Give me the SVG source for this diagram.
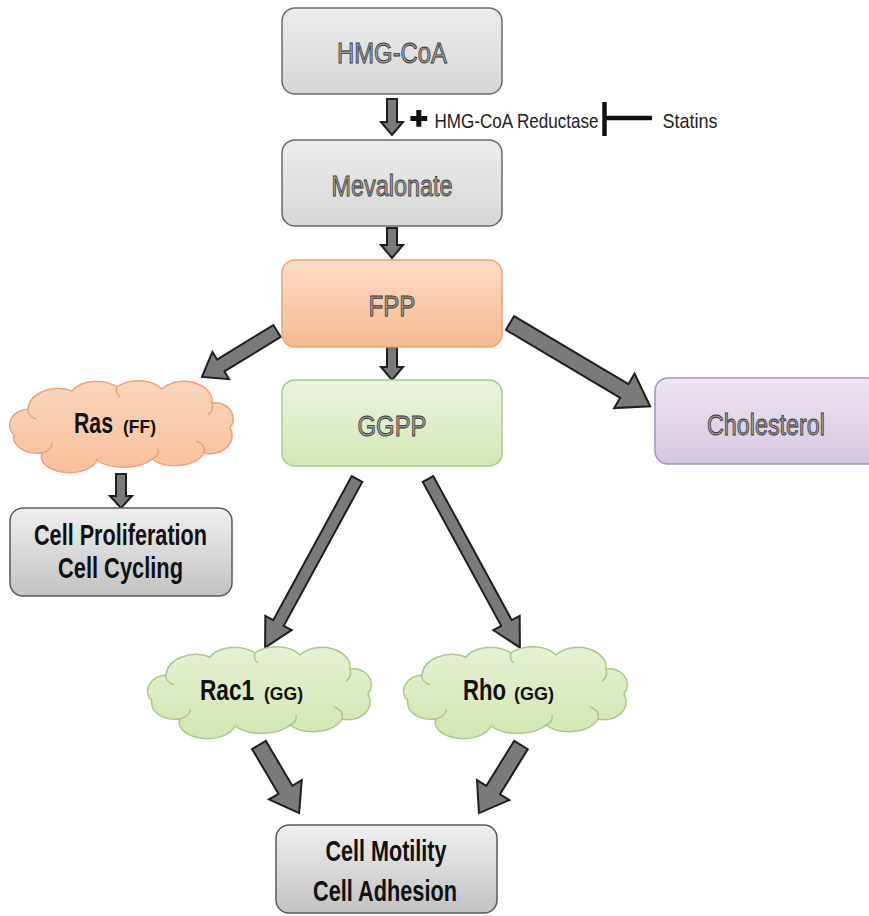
<svg xmlns="http://www.w3.org/2000/svg" width="869" height="916" viewBox="0 0 869 916">
<style>
.box{stroke-width:1.5}
.gray{fill:url(#gGray);stroke:#6a6a6a}
.dgray{fill:url(#gDark);stroke:#5a5a5a}
.orange{fill:url(#gOrange);stroke:#eea477}
.green{fill:url(#gGreen);stroke:#a9cb86}
.purple{fill:url(#gPurple);stroke:#a692bf}
.otxt{font-family:"Liberation Sans",Arial,sans-serif;font-size:30px;fill:#a2a2a2;stroke:#333;stroke-width:0.9;text-anchor:middle}
.btxt{font-family:"Liberation Sans",Arial,sans-serif;font-size:30px;font-weight:bold;fill:#111;text-anchor:middle}
.ctxt{font-family:"Liberation Sans",Arial,sans-serif;font-weight:bold;fill:#111}
.ltxt{font-family:"Liberation Sans",Arial,sans-serif;font-size:21px;fill:#222}
.arr{fill:#7a7a7a;stroke:#1e1e1e;stroke-width:2;stroke-linejoin:miter}
.cloudO{fill:url(#gCloudO);stroke:#eba27a;stroke-width:1.5}
.cloudG{fill:url(#gCloudG);stroke:#a9c98a;stroke-width:1.5}
.curlO{fill:none;stroke:#eba27a;stroke-width:1.5}
.curlG{fill:none;stroke:#a9c98a;stroke-width:1.5}
</style>
<defs>
<linearGradient id="gGray" x1="0" y1="0" x2="0" y2="1"><stop offset="0" stop-color="#ededed"/><stop offset="1" stop-color="#d6d6d6"/></linearGradient>
<linearGradient id="gDark" x1="0" y1="0" x2="0" y2="1"><stop offset="0" stop-color="#f0f0f0"/><stop offset="1" stop-color="#c2c2c2"/></linearGradient>
<linearGradient id="gOrange" x1="0" y1="0" x2="0" y2="1"><stop offset="0" stop-color="#fcdcc6"/><stop offset="1" stop-color="#f8b991"/></linearGradient>
<linearGradient id="gGreen" x1="0" y1="0" x2="0" y2="1"><stop offset="0" stop-color="#ecf5e0"/><stop offset="1" stop-color="#d3e7b6"/></linearGradient>
<linearGradient id="gPurple" x1="0" y1="0" x2="0" y2="1"><stop offset="0" stop-color="#eee6f2"/><stop offset="1" stop-color="#d6c6e0"/></linearGradient>
<linearGradient id="gCloudO" x1="0" y1="0" x2="0" y2="1"><stop offset="0" stop-color="#fbd6bc"/><stop offset="1" stop-color="#f8c09b"/></linearGradient>
<linearGradient id="gCloudG" x1="0" y1="0" x2="0" y2="1"><stop offset="0" stop-color="#e6f1d3"/><stop offset="1" stop-color="#d2e6b3"/></linearGradient>
<path id="cloud" d="M -80,30 A 24,16 0 0 1 -108,12 A 20,16 0 0 1 -94,-14 A 30,22 0 0 1 -50,-32 A 28,18 0 0 1 -5,-36 A 28,18 0 0 1 40,-34 A 28,20 0 0 1 90,-20 A 18,16 0 0 1 108,5 A 22,18 0 0 1 82,30 A 30,18 0 0 1 30,36 A 32,16 0 0 1 -25,37 A 28,16 0 0 1 -80,30 Z"/>
<path id="curls" d="M -94,-14 A 14,10 0 0 0 -86,-4 M -80,30 A 16,10 0 0 0 -70,20 M 90,-20 A 14,12 0 0 1 86,-8 M 82,30 A 14,10 0 0 0 74,18 M 30,36 A 14,10 0 0 0 36,26 M -5,-36 A 12,10 0 0 0 -2,-26"/>
</defs>

<g id="connectors">
<polygon class="arr" transform="translate(392,99) rotate(90)" points="0,-5 23,-5 23,-11 36,0 23,11 23,5 0,5"/>
<polygon class="arr" transform="translate(392,228) rotate(90)" points="0,-5 17,-5 17,-11 30,0 17,11 17,5 0,5"/>
<polygon class="arr" transform="translate(392,347) rotate(90)" points="0,-5 20,-5 20,-11 33,0 20,11 20,5 0,5"/>
<polygon class="arr" transform="translate(121,474) rotate(90)" points="0,-5 22,-5 22,-11 34,0 22,11 22,5 0,5"/>
<polygon class="arr" transform="translate(277,331) rotate(148.5)" points="0,-7 66,-7 66,-16 88,0 66,16 66,7 0,7"/>
<polygon class="arr" transform="translate(510,323) rotate(30.7)" points="0,-8 133,-8 133,-20 163,0 133,20 133,8 0,8"/>
<polygon class="arr" transform="translate(357,479) rotate(118.6)" points="0,-6 164,-6 164,-15 192,0 164,15 164,6 0,6"/>
<polygon class="arr" transform="translate(428,479) rotate(61.4)" points="0,-6 164,-6 164,-15 192,0 164,15 164,6 0,6"/>
<polygon class="arr" transform="translate(259,745) rotate(59.5)" points="0,-8 52,-8 52,-19 79,0 52,19 52,8 0,8"/>
<polygon class="arr" transform="translate(521,745) rotate(121.7)" points="0,-8 53,-8 53,-19 80,0 53,19 53,8 0,8"/>
<g id="statins-inhibition">
<line x1="606" y1="118" x2="652" y2="118" stroke="#111" stroke-width="4.5"/>
<line x1="604.5" y1="102" x2="604.5" y2="136" stroke="#111" stroke-width="4.5"/>
</g>
</g>

<g id="hmgcoa">
<rect class="box gray" x="282" y="8" width="220" height="86" rx="13"/>
<text class="otxt" x="392" y="63" textLength="110" lengthAdjust="spacingAndGlyphs">HMG-CoA</text>
</g>

<g id="reductase">
<path d="M416.3,110 h5 v5.9 h5.9 v5 h-5.9 v5.9 h-5 v-5.9 h-5.9 v-5 h5.9 z" fill="#111"/>
<text class="ltxt" x="434.5" y="128" textLength="164" lengthAdjust="spacingAndGlyphs">HMG-CoA Reductase</text>
</g>

<g id="statins">
<text class="ltxt" x="662.5" y="128" textLength="55" lengthAdjust="spacingAndGlyphs">Statins</text>
</g>

<g id="mevalonate">
<rect class="box gray" x="282" y="140" width="220" height="86" rx="13"/>
<text class="otxt" x="392" y="196" textLength="121" lengthAdjust="spacingAndGlyphs">Mevalonate</text>
</g>

<g id="fpp">
<rect class="box orange" x="282" y="260" width="220" height="87" rx="13"/>
<text class="otxt" x="392" y="316" textLength="47" lengthAdjust="spacingAndGlyphs">FPP</text>
</g>

<g id="ggpp">
<rect class="box green" x="282" y="380" width="220" height="86" rx="13"/>
<text class="otxt" x="392" y="436" textLength="69" lengthAdjust="spacingAndGlyphs">GGPP</text>
</g>

<g id="cholesterol">
<rect class="box purple" x="655" y="378" width="230" height="86" rx="13"/>
<text class="otxt" x="766" y="435" textLength="118" lengthAdjust="spacingAndGlyphs">Cholesterol</text>
</g>

<g id="ras">
<g transform="translate(122,423)"><use href="#cloud" class="cloudO"/><use href="#curls" class="curlO"/></g>
<text class="ctxt" transform="translate(74,433) scale(0.733,1)" font-size="29">Ras</text>
<text class="ctxt" transform="translate(123,433) scale(0.92,1)" font-size="19">(FF)</text>
</g>

<g id="cell-proliferation">
<rect class="box dgray" x="10" y="508" width="222" height="88" rx="13"/>
<text class="btxt" x="120.5" y="545" textLength="173" lengthAdjust="spacingAndGlyphs">Cell Proliferation</text>
<text class="btxt" x="120.5" y="578" textLength="125" lengthAdjust="spacingAndGlyphs">Cell Cycling</text>
</g>

<g id="rac1">
<g transform="translate(260,689)"><use href="#cloud" class="cloudG"/><use href="#curls" class="curlG"/></g>
<text class="ctxt" transform="translate(200,700) scale(0.78,1)" font-size="29">Rac1</text>
<text class="ctxt" transform="translate(264,700) scale(0.924,1)" font-size="19">(GG)</text>
</g>

<g id="rho">
<g transform="translate(516,689)"><use href="#cloud" class="cloudG"/><use href="#curls" class="curlG"/></g>
<text class="ctxt" transform="translate(463,700) scale(0.762,1)" font-size="29">Rho</text>
<text class="ctxt" transform="translate(514,700) scale(0.948,1)" font-size="19">(GG)</text>
</g>

<g id="cell-motility">
<rect class="box dgray" x="276" y="825" width="221" height="88" rx="13"/>
<text class="btxt" x="386" y="861" textLength="121" lengthAdjust="spacingAndGlyphs">Cell Motility</text>
<text class="btxt" x="385" y="901" textLength="144" lengthAdjust="spacingAndGlyphs">Cell Adhesion</text>
</g>
</svg>
